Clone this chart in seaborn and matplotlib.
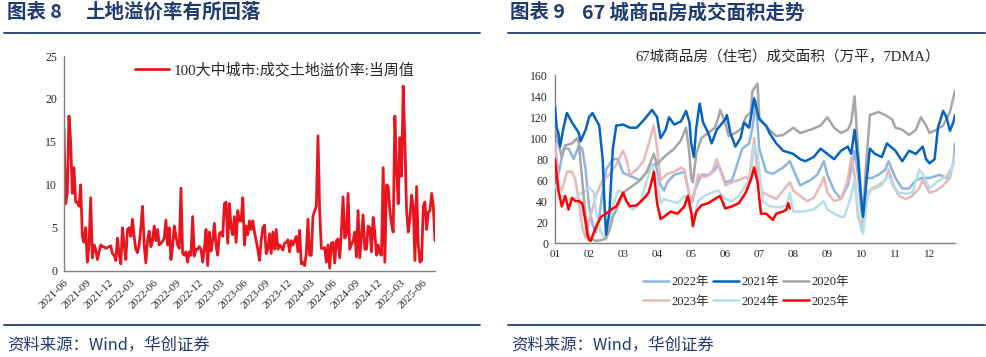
import matplotlib
matplotlib.use('Agg')
from matplotlib import pyplot as plt
import matplotlib.dates as mdates
from matplotlib.lines import Line2D
import pandas as pd
import seaborn as sns

# Grafico 8: 100 grandi e medie citta, premio sul prezzo dei terreni (valore settimanale)
premio_valori = [
    16.5, 7.8, 9, 18, 15, 9, 12, 8, 8, 7.5, 10, 4, 3.3, 5, 1, 3, 8.5, 1.5, 3, 2.5,
    1.3, 2.2, 3, 2.8, 2.8, 2.6, 2.7, 2.8, 2.9, 2, 1.8, 1.2, 3.8, 2, 0.8, 5, 3, 1.3, 4.8, 5,
    4, 6, 4, 2.5, 2.1, 3, 5, 7.5, 3, 0.9, 3.5, 4.6, 2.8, 3.5, 5.2, 3.5, 4.8, 3, 3.2, 3.4,
    3.8, 5.9, 3, 5, 1.3, 2.8, 5.2, 4, 3, 2.6, 9.6, 2, 1.8, 2.2, 1, 2.2, 1.8, 6.3, 1.7, 2.5,
    2.5, 2.8, 2.5, 1, 2.5, 4.8, 0.6, 4.5, 2.3, 3.5, 5.5, 3, 1.8, 4.3, 4.5, 4, 7.8, 8, 3.2, 7.8,
    5, 4.2, 6.3, 3.3, 7, 5.8, 5.8, 8.5, 3, 5.2, 4.2, 5.8, 4.8, 5.8, 4.5, 3.5, 2.5, 1.2, 3.5, 5,
    5.3, 2, 2.5, 4.3, 2, 4.5, 2.5, 4.8, 2.5, 3, 2.8, 2.4, 3.2, 3.3, 3.6, 2.2, 3.5, 3, 3.5, 4,
    2.2, 4.7, 0.8, 1, 0.6, 2, 6, 1.8, 1.8, 6.3, 7, 7.5, 15.7, 7, 2.6, 2.6, 2.7, 1, 3, 0.3,
    3.2, 3.3, 0.9, 3.5, 3.7, 1.5, 4.5, 8.6, 3.8, 4.2, 9, 2.5, 3, 3.5, 4.5, 1.6, 7, 1.5, 4, 6.5,
    2.5, 2.5, 5.2, 5, 2.2, 6.2, 4.5, 1.8, 3, 2, 1.8, 12, 1, 10, 9.8, 7, 5.5, 4.5, 18, 12,
    7.8, 15.5, 11, 21.5, 15, 7, 4.5, 6, 8.8, 7.5, 1.2, 9.8, 3, 1, 1.2, 7.5, 8, 4.8, 6.8, 7,
    9, 7.5, 3.5,
]
premio_inizio = '2021-06-01'
premio_fine = '2025-07-21'
premio_nome = '100大中城市:成交土地溢价率:当周值'

# Grafico 9: 67 citta, superficie venduta (mese, valore 7DMA)
s2022 = [(1.0, 100), (1.05, 80), (1.1, 65), (1.25, 90), (1.4, 90), (1.55, 80), (1.7, 93), (1.8, 90),
         (1.9, 70), (2.0, 35), (2.1, 18), (2.2, 10), (2.3, 25), (2.4, 50), (2.5, 70), (2.7, 80),
         (2.85, 80), (3.0, 67), (3.2, 64), (3.5, 60), (3.8, 72), (3.95, 76), (4.1, 55), (4.2, 50),
         (4.3, 58), (4.5, 65), (4.8, 68), (5.0, 38), (5.1, 50), (5.3, 65), (5.5, 65), (5.7, 70),
         (5.8, 75), (6.0, 58), (6.2, 60), (6.5, 90), (6.7, 95), (6.8, 110), (6.9, 135), (7.0, 90),
         (7.2, 68), (7.4, 66), (7.7, 72), (7.9, 78), (8.0, 70), (8.2, 55), (8.5, 60), (8.7, 65),
         (8.9, 78), (9.0, 65), (9.2, 50), (9.4, 42), (9.6, 55), (9.7, 70), (9.8, 88), (9.9, 65),
         (10.0, 30), (10.05, 22), (10.15, 62), (10.3, 62), (10.5, 65), (10.7, 70), (10.8, 78),
         (11.0, 62), (11.2, 52), (11.4, 52), (11.6, 60), (11.8, 62), (12.0, 62), (12.3, 65),
         (12.5, 62), (12.7, 75), (12.75, 95)]
s2021 = [(1.0, 130), (1.05, 110), (1.1, 105), (1.15, 92), (1.25, 110), (1.35, 124), (1.5, 115),
         (1.7, 105), (1.75, 97), (1.9, 108), (2.0, 120), (2.1, 124), (2.3, 112), (2.4, 80),
         (2.45, 40), (2.5, 8), (2.6, 30), (2.7, 90), (2.8, 112), (3.0, 113), (3.2, 110), (3.4, 110),
         (3.6, 117), (3.85, 127), (4.0, 120), (4.1, 100), (4.25, 108), (4.35, 120), (4.5, 113),
         (4.7, 116), (4.85, 126), (4.95, 115), (5.0, 95), (5.08, 82), (5.15, 110), (5.25, 133),
         (5.35, 115), (5.5, 105), (5.6, 95), (5.75, 108), (6.0, 118), (6.05, 122), (6.15, 105),
         (6.3, 92), (6.45, 100), (6.55, 115), (6.7, 110), (6.85, 138), (7.0, 118), (7.2, 112),
         (7.3, 105), (7.5, 95), (7.7, 88), (8.0, 85), (8.2, 80), (8.35, 78), (8.6, 82), (8.8, 90),
         (9.0, 85), (9.2, 80), (9.4, 88), (9.6, 92), (9.7, 85), (9.8, 108), (9.9, 80), (10.0, 40),
         (10.05, 25), (10.15, 60), (10.25, 90), (10.4, 85), (10.6, 82), (10.75, 95), (11.0, 88),
         (11.2, 78), (11.4, 88), (11.6, 85), (11.8, 92), (11.9, 80), (12.0, 76), (12.15, 80),
         (12.25, 110), (12.4, 126), (12.5, 120), (12.6, 107), (12.7, 115), (12.75, 122)]
s2020 = [(1.0, 115), (1.1, 95), (1.2, 82), (1.3, 93), (1.5, 95), (1.65, 100), (1.7, 95), (1.8, 60),
         (1.9, 25), (2.0, 5), (2.2, 2), (2.4, 3), (2.5, 5), (2.6, 12), (2.7, 25), (2.85, 35),
         (3.0, 48), (3.3, 55), (3.5, 60), (3.7, 68), (3.9, 85), (4.0, 75), (4.2, 82), (4.5, 90),
         (4.7, 98), (4.85, 110), (4.95, 85), (5.0, 62), (5.05, 58), (5.15, 85), (5.3, 100),
         (5.5, 105), (5.7, 110), (5.8, 120), (5.85, 127), (6.0, 115), (6.1, 102), (6.3, 105),
         (6.5, 110), (6.6, 120), (6.75, 125), (6.8, 145), (6.95, 152), (7.0, 120), (7.1, 115),
         (7.3, 108), (7.5, 102), (7.7, 103), (8.0, 110), (8.2, 105), (8.5, 108), (8.8, 112),
         (9.0, 120), (9.2, 110), (9.4, 105), (9.6, 108), (9.7, 115), (9.8, 140), (9.9, 90),
         (10.0, 40), (10.05, 30), (10.15, 80), (10.25, 122), (10.5, 125), (10.7, 122), (10.9, 118),
         (11.0, 110), (11.2, 108), (11.4, 103), (11.6, 108), (11.75, 120), (11.9, 112), (12.0, 105),
         (12.2, 108), (12.4, 112), (12.6, 125), (12.75, 145)]
s2023 = [(1.0, 95), (1.1, 55), (1.2, 50), (1.35, 68), (1.5, 68), (1.6, 60), (1.7, 40), (1.8, 15),
         (1.9, 5), (2.0, 20), (2.2, 45), (2.4, 60), (2.6, 65), (2.8, 75), (3.0, 88), (3.1, 80),
         (3.2, 65), (3.4, 70), (3.6, 78), (3.8, 100), (3.9, 112), (4.0, 90), (4.1, 60), (4.3, 66),
         (4.5, 68), (4.7, 72), (4.8, 70), (4.95, 45), (5.05, 40), (5.2, 65), (5.4, 63), (5.6, 66),
         (5.75, 80), (5.85, 70), (6.0, 55), (6.2, 58), (6.4, 60), (6.6, 63), (6.7, 60), (6.85, 100),
         (6.95, 65), (7.1, 48), (7.3, 45), (7.5, 42), (7.7, 50), (7.9, 58), (8.0, 50), (8.2, 45),
         (8.4, 40), (8.6, 43), (8.8, 55), (8.9, 63), (9.0, 48), (9.2, 40), (9.4, 42), (9.6, 60),
         (9.7, 82), (9.8, 65), (9.9, 25), (10.0, 14), (10.1, 40), (10.3, 52), (10.5, 55), (10.7, 60),
         (10.8, 70), (10.95, 55), (11.1, 45), (11.3, 42), (11.5, 45), (11.7, 52), (11.8, 60),
         (12.0, 48), (12.2, 50), (12.4, 55), (12.6, 62), (12.75, 85)]
s2024 = [(1.0, 55), (1.2, 45), (1.4, 42), (1.6, 43), (1.8, 48), (2.0, 53), (2.15, 48), (2.2, 30),
         (2.35, 10), (2.5, 3), (2.6, 15), (2.7, 35), (2.85, 50), (3.0, 48), (3.15, 35), (3.3, 32),
         (3.5, 38), (3.7, 60), (3.85, 75), (4.0, 58), (4.1, 38), (4.2, 42), (4.4, 40), (4.6, 38),
         (4.8, 45), (5.0, 30), (5.1, 25), (5.2, 40), (5.4, 45), (5.6, 48), (5.8, 50), (6.0, 42),
         (6.2, 40), (6.4, 45), (6.6, 55), (6.75, 62), (6.85, 95), (6.95, 85), (7.1, 40), (7.3, 35),
         (7.6, 34), (7.8, 36), (7.9, 48), (8.0, 30), (8.3, 30), (8.6, 32), (8.9, 40), (9.0, 32),
         (9.2, 28), (9.4, 25), (9.5, 25), (9.7, 45), (9.8, 60), (9.9, 30), (10.0, 12), (10.05, 9),
         (10.2, 50), (10.4, 52), (10.6, 55), (10.8, 65), (10.95, 52), (11.1, 48), (11.3, 47),
         (11.5, 48), (11.7, 70), (11.8, 66), (12.0, 52), (12.2, 58), (12.4, 62), (12.6, 66),
         (12.75, 82)]
s2025 = [(1.0, 80), (1.1, 50), (1.2, 35), (1.3, 45), (1.4, 32), (1.5, 43), (1.6, 40), (1.7, 40),
         (1.8, 38), (1.9, 20), (1.95, 8), (2.0, 3), (2.05, 2), (2.2, 15), (2.35, 25), (2.5, 28),
         (2.7, 33), (2.8, 35), (3.0, 48), (3.1, 40), (3.2, 35), (3.4, 36), (3.6, 42), (3.75, 48),
         (3.85, 60), (3.9, 68), (4.0, 38), (4.1, 23), (4.2, 25), (4.4, 30), (4.6, 28), (4.8, 35),
         (4.9, 45), (5.0, 30), (5.05, 16), (5.15, 30), (5.3, 36), (5.5, 38), (5.7, 42), (5.85, 45),
         (6.0, 33), (6.2, 35), (6.4, 38), (6.6, 48), (6.75, 60), (6.85, 72), (6.95, 58), (7.05, 28),
         (7.2, 28), (7.3, 25), (7.4, 22), (7.5, 28), (7.7, 30), (7.8, 32), (7.85, 38), (7.9, 33)]

anni = ['2022年', '2021年', '2020年', '2023年', '2024年', '2025年']
serie = [s2022, s2021, s2020, s2023, s2024, s2025]
colori = ['#8DB4E2', '#0563C1', '#A6A6A6', '#E6B9B8', '#B7DEE8', '#FF0000']
mesi = ['01', '02', '03', '04', '05', '06', '07', '08', '09', '10', '11', '12']

blu_titolo = '#1F3A6E'
grigio = '#808080'

sns.set_style('white')
plt.rcParams['font.family'] = ['Liberation Serif', 'Noto Sans CJK SC']
plt.rcParams['axes.unicode_minus'] = False

fig = plt.figure(figsize=(9.87, 3.57), dpi=100)

# Titoli, linee di separazione e fonte
cjk = ['Noto Sans CJK SC', 'DejaVu Sans']
fig.text(0.007, 0.965, '图表 8', fontsize=14, fontweight='bold', color=blu_titolo, family=cjk, va='center')
fig.text(0.086, 0.965, '土地溢价率有所回落', fontsize=14, fontweight='bold', color=blu_titolo,
         family=cjk, va='center')
fig.text(0.517, 0.965, '图表 9', fontsize=14, fontweight='bold', color=blu_titolo, family=cjk, va='center')
fig.text(0.590, 0.965, '67 城商品房成交面积走势', fontsize=14, fontweight='bold', color=blu_titolo,
         family=cjk, va='center')
for x0, x1 in [(0.004, 0.486), (0.515, 0.998)]:
    fig.add_artist(Line2D([x0, x1], [0.907, 0.907], transform=fig.transFigure, color=blu_titolo, lw=1.3))
    fig.add_artist(Line2D([x0, x1], [0.09, 0.09], transform=fig.transFigure, color=blu_titolo, lw=1.3))
fig.text(0.007, 0.033, '资料来源：Wind，华创证券', fontsize=11.8, style='italic',
         color=blu_titolo, family=cjk, va='center')
fig.text(0.518, 0.033, '资料来源：Wind，华创证券', fontsize=11.8, style='italic',
         color=blu_titolo, family=cjk, va='center')

# ---- Grafico 8 ----
ax1 = fig.add_axes([0.0648, 0.2417, 0.3759, 0.6014])
df1 = pd.DataFrame({
    'data': pd.date_range(premio_inizio, premio_fine, periods=len(premio_valori)),
    'valore': premio_valori,
})
sns.lineplot(data=df1, x='data', y='valore', ax=ax1, color='#E8141E', lw=2.0, label=premio_nome)
ax1.set_xlim(pd.Timestamp(premio_inizio), pd.Timestamp(premio_fine))
ax1.set_ylim(0, 25)
ax1.set_yticks(range(0, 26, 5))
ax1.xaxis.set_major_locator(mdates.MonthLocator(bymonth=[3, 6, 9, 12]))
ax1.xaxis.set_major_formatter(mdates.DateFormatter('%Y-%m'))
plt.setp(ax1.get_xticklabels(), rotation=45, ha='right', rotation_mode='anchor')
ax1.set_xlabel('')
ax1.set_ylabel('')
ax1.legend(loc='center left', bbox_to_anchor=(0.155, 0.935), frameon=False, fontsize=10.8,
           handlelength=2.3, handletextpad=0.3)

# ---- Grafico 9 ----
ax2 = fig.add_axes([0.5623, 0.3193, 0.4053, 0.4698])
righe = []
for anno, s in zip(anni, serie):
    for m, v in s:
        righe.append({'mese': m, 'valore': v, 'anno': anno})
df2 = pd.DataFrame(righe)
ordine = ['2022年', '2023年', '2024年', '2020年', '2021年', '2025年']
for z, anno in enumerate(ordine):
    sub = df2[df2['anno'] == anno]
    sns.lineplot(data=sub, x='mese', y='valore', ax=ax2, sort=False, lw=1.8,
                 color=colori[anni.index(anno)], zorder=2 + z, legend=False)
ax2.set_xlim(1, 12.75)
ax2.set_ylim(0, 160)
ax2.set_yticks(range(0, 161, 20))
ax2.set_xticks(range(1, 13))
ax2.set_xticklabels(mesi)
ax2.set_xlabel('')
ax2.set_ylabel('')
fig.text(788 / 987, 0.840, '67城商品房（住宅）成交面积（万平，7DMA）', fontsize=10.5,
         ha='center', va='center')

# legenda su due righe: 2022/2021/2020 e 2023/2024/2025
maniglie = {a: Line2D([], [], color=c, lw=1.8) for a, c in zip(anni, colori)}
ordine_leg = ['2022年', '2023年', '2021年', '2024年', '2020年', '2025年']
fig.legend([maniglie[a] for a in ordine_leg], ordine_leg, ncol=3, loc='center',
           bbox_to_anchor=(746 / 987, 0.182), frameon=False, fontsize=9, handlelength=2.1,
           handletextpad=0.2, columnspacing=0.3, labelspacing=0.6)

for ax in (ax1, ax2):
    for lato in ['top', 'right']:
        ax.spines[lato].set_visible(False)
    for lato in ['left', 'bottom']:
        ax.spines[lato].set_color(grigio)
        ax.spines[lato].set_linewidth(1.0)
    ax.tick_params(direction='out', length=3, width=0.8, color=grigio, labelsize=8, pad=2)
    ax.tick_params(axis='y', labelsize=8.5)

fig.savefig('out.png', dpi=100)
